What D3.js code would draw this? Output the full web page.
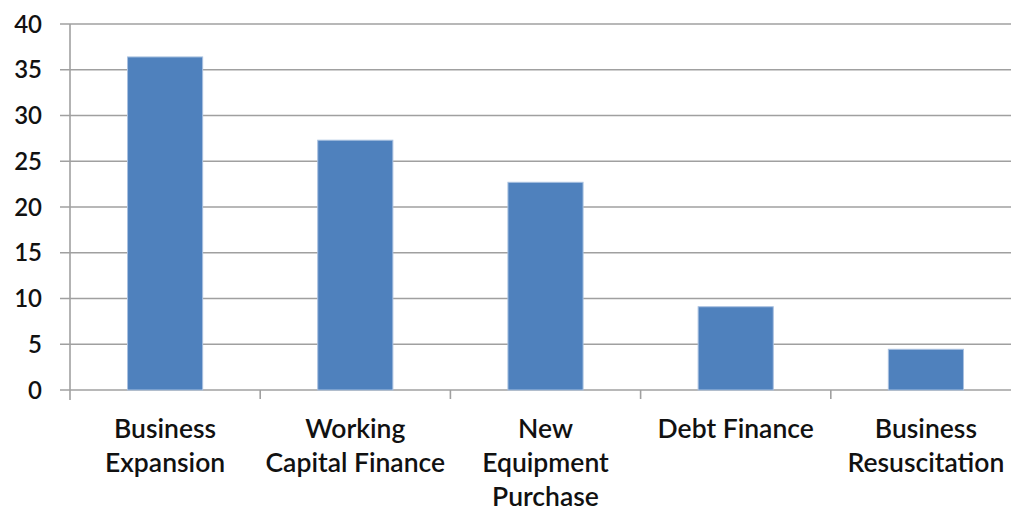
<!DOCTYPE html>
<html lang="en">
<head>
  <meta charset="UTF-8">
  <script type="text/javascript" src="https://cdn.jsdelivr.net/npm/d3@7"></script>
  <title> Financing Purpose </title>
  <style>
    body { margin: 0; background: #fff; }
    * { font-family: Lato, "Open Sans", sans-serif; }
  </style>
</head>
<body>
  <div id="chart"></div>
<script>

  // Data
  var categories = ["Business Expansion", "Working Capital Finance", "New Equipment Purchase", "Debt Finance", "Business Resuscitation"];
  var labelLines = [["Business", "Expansion"], ["Working", "Capital Finance"], ["New", "Equipment", "Purchase"], ["Debt Finance"], ["Business", "Resuscitation"]];
  var values = [36.4, 27.3, 22.7, 9.1, 4.45];
  var yTicks = [0, 5, 10, 15, 20, 25, 30, 35, 40];

  var margin = {top: 24, right: -10, bottom: 122, left: 70};
  var width = 1011 - margin.left - margin.right;
  var height = 512 - margin.top - margin.bottom;

  var svg = d3.select("#chart")
      .append("svg")
      .attr("width", 1011)
      .attr("height", 512);

  var g = svg.append("g")
      .attr("transform", "translate(" + margin.left + "," + margin.top + ")");

  var x = d3.scaleBand().domain(categories).range([0, width]).padding(0),
      y = d3.scaleLinear().domain([0, 40]).range([height, 0]);

  var barW = x.bandwidth() * 0.395;

  // gridlines + y labels
  g.selectAll(".grid")
    .data(yTicks)
    .enter().append("line")
      .attr("x1", -10)
      .attr("x2", width)
      .attr("y1", function(d) { return y(d); })
      .attr("y2", function(d) { return y(d); })
      .attr("stroke", "#a0a0a0")
      .attr("stroke-width", 1.6);

  g.selectAll(".ylab")
    .data(yTicks)
    .enter().append("text")
      .attr("x", -28)
      .attr("y", function(d) { return y(d); })
      .attr("dy", "0.36em")
      .attr("text-anchor", "end")
      .attr("font-size", 24)
      .attr("font-weight", 600)
      .attr("fill", "#111")
      .text(function(d) { return d; });

  // y axis line
  g.append("line")
    .attr("x1", 0).attr("x2", 0)
    .attr("y1", 0).attr("y2", height + 10)
    .attr("stroke", "#a0a0a0")
    .attr("stroke-width", 1.6);

  // category tick marks at band boundaries
  g.selectAll(".xtick")
    .data(categories.slice(1))
    .enter().append("line")
      .attr("x1", function(d) { return x(d); })
      .attr("x2", function(d) { return x(d); })
      .attr("y1", height)
      .attr("y2", height + 9)
      .attr("stroke", "#a0a0a0")
      .attr("stroke-width", 1.6);

  // bars
  g.selectAll(".bar")
    .data(values)
    .enter().append("rect")
      .attr("class", "bar")
      .attr("x", function(d, i) { return x(categories[i]) + (x.bandwidth() - barW) / 2; })
      .attr("y", function(d) { return y(d); })
      .attr("width", barW)
      .attr("height", function(d) { return height - y(d); })
      .attr("fill", "#4f81bd")
      .attr("stroke", "#a9c1e0")
      .attr("stroke-width", 1);

  // category labels
  var labels = g.selectAll(".xlab")
    .data(categories)
    .enter().append("text")
      .attr("text-anchor", "middle")
      .attr("font-size", 26.5)
      .attr("font-weight", 600)
      .attr("fill", "#111")
      .attr("transform", function(d) { return "translate(" + (x(d) + x.bandwidth() / 2) + "," + (height + 48) + ")"; });

  labels.selectAll("tspan")
    .data(function(d, i) { return labelLines[i]; })
    .enter().append("tspan")
      .attr("x", 0)
      .attr("y", function(d, i) { return i * 34; })
      .text(function(d) { return d; });

</script>
</body>
</html>
